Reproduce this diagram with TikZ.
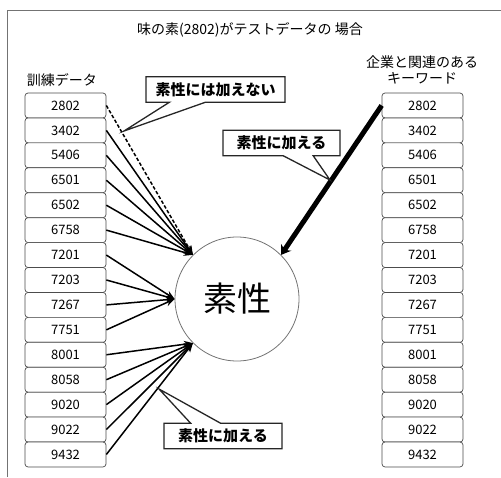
\documentclass[tikz,border=0pt]{standalone}
\usepackage{fontspec}
\setmainfont{Noto Sans CJK JP}
\usetikzlibrary{arrows.meta,shapes.callouts}
\begin{document}
\begin{tikzpicture}[x=1pt,y=-1pt,
  numbox/.style={draw=black!70, line width=0.7pt, rounded corners=3pt,
    minimum width=81pt, minimum height=24.9pt, inner sep=0pt, fill=white,
    font=\fontsize{13}{13}\selectfont},
  lbl/.style={font=\fontsize{14}{16}\selectfont, align=center, inner sep=0pt},
  callbox/.style={rectangle callout, draw=black!85, line width=1.3pt, fill=white,
    font=\bfseries\fontsize{15}{15}\selectfont, inner sep=0pt,
    minimum height=25.5pt},
  feed/.style={line width=1.5pt, -{Stealth[length=9pt,width=7pt]}},
  frame/.style={draw=black!55, line width=0.8pt}
]
\useasboundingbox (0,0) rectangle (501,477);
\draw[frame] (7,477) -- (7,10) -- (501,10);

% titles
\node[lbl] (title) at (250,30) {味の素(2802)がテストデータの 場合};
\node[lbl] (ltitle) at (62,80) {訓練データ};
\node[lbl] (rtitle) at (422,70) {企業と関連のある\\キーワード};

% number columns
\foreach \n [count=\i from 0] in {2802,3402,5406,6501,6502,6758,7201,7203,7267,7751,8001,8058,9020,9022,9432} {
  \node[numbox] (l\i) at (65.5, 93+24.93*\i+12.47) {\n};
  \node[numbox] (r\i) at (422.5, 93+24.93*\i+12.47) {\n};
}

% central node
\node[circle, draw=black!55, line width=0.8pt, minimum size=124pt, inner sep=0pt,
  font=\fontsize{34}{34}\selectfont] (c) at (237,299) {素性};

% connectors
\draw[feed, dash pattern=on 3.5pt off 2pt] (l0.east) -- (c.135);
\foreach \i in {1,...,5} { \draw[feed] (l\i.east) -- (c.135); }
\foreach \i in {6,...,9} { \draw[feed] (l\i.east) -- (c.180); }
\foreach \i in {10,...,14} { \draw[feed] (l\i.east) -- (c.225); }
\draw[line width=5pt, -{Stealth[length=9pt,width=12pt]}] (r0.west) -- (c.45);

% callouts
\coordinate (t1) at (124,131);
\coordinate (t2) at (330,180);
\coordinate (t3) at (159,389);
\node[callbox, minimum width=139pt, callout absolute pointer=(t1),
  callout pointer width=36pt] (k1) at (215.5,89.5) {素性には加えない};
\node[callbox, minimum width=117pt, callout absolute pointer=(t2),
  callout pointer width=30pt] (k2) at (281.5,143) {素性に加える};
\node[callbox, minimum width=118pt, callout absolute pointer=(t3),
  callout pointer width=30pt] (k3) at (223,436) {素性に加える};
\end{tikzpicture}
\end{document}
